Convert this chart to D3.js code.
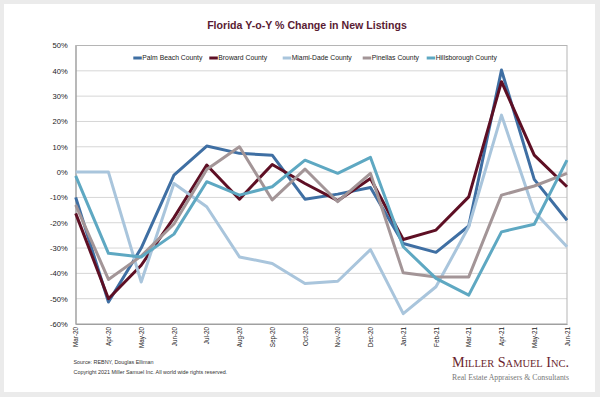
<!DOCTYPE html>
<html><head><meta charset="utf-8">
<script src="https://cdn.jsdelivr.net/npm/d3@7/dist/d3.min.js"></script>
<style>
html,body{margin:0;padding:0;background:#ebebeb;}
svg{display:block;}
</style></head>
<body>
<svg id="chart" width="600" height="397"></svg>
<script>
const months = ["Mar-20","Apr-20","May-20","Jun-20","Jul-20","Aug-20","Sep-20","Oct-20","Nov-20","Dec-20","Jan-21","Feb-21","Mar-21","Apr-21","May-21","Jun-21"];
const seriesNames = ["Palm Beach County","Broward County","Miami-Dade County","Pinellas County","Hillsborough County"];
const palmBeach    = [-10,-51.3,-30,-1.2,10.3,7.4,6.7,-10.7,-8.7,-6.1,-28.2,-31.7,-21.3,40.3,-2.9,-19];
const broward      = [-16.3,-50,-36.8,-18,2.8,-10.7,3,-4.5,-11.3,-2.5,-26.6,-22.9,-9.8,35.7,6.7,-5.8];
const miamiDade    = [0,0,-43.4,-4.5,-13.7,-33.5,-36.1,-44,-43.1,-30.6,-55.9,-45.3,-21.6,22.5,-15.7,-29.5];
const pinellas     = [-13,-42.4,-33.2,-20.5,1,10,-11,1.2,-11.7,-0.5,-39.8,-41.4,-41.4,-9.1,-5.5,-0.5];
const hillsborough = [-1.5,-32.1,-33.5,-24.5,-3.8,-9.1,-5.8,4.7,-0.5,5.8,-29.5,-42,-48.6,-23.6,-20.6,4.7];
const yTicks = [50,40,30,20,10,0,-10,-20,-30,-40,-50,-60];
const colors = ["#3f6fa3","#5e0f24","#a9c5dc","#a39597","#5ea8c2"];

const seriesValues = [palmBeach, broward, miamiDade, pinellas, hillsborough];

const svg = d3.select("#chart");
// card
svg.append("rect").attr("x",4).attr("y",4).attr("width",591).attr("height",388).attr("fill","#ffffff");

const x = d3.scalePoint().domain(months).range([75.7, 567]);
const y = d3.scaleLinear().domain([-60, 50]).range([324, 45.5]);

// gridlines
svg.append("g").selectAll("line").data(yTicks).join("line")
  .attr("x1", 75.7).attr("x2", 567)
  .attr("y1", d => y(d)).attr("y2", d => y(d))
  .attr("stroke", "#d6d6d6").attr("stroke-width", 1);

// plot border
svg.append("rect").attr("x",75.7).attr("y",y(50)).attr("width",567-75.7).attr("height",y(-60)-y(50))
  .attr("fill","none").attr("stroke","#b5b5b5").attr("stroke-width",1);

// y axis
const yAxis = d3.axisLeft(y).tickValues(yTicks).tickFormat(d => d + "%").tickSize(0).tickPadding(8);
const gy = svg.append("g").attr("transform","translate(75.7,0)").call(yAxis);
gy.select(".domain").attr("stroke","#a0a0a0");
gy.selectAll("text").attr("font-family","Liberation Sans, Arial, sans-serif").attr("font-size","7.6px").attr("fill","#222");

// x axis
const xAxis = d3.axisBottom(x).tickSize(0).tickPadding(4);
const gx = svg.append("g").attr("transform","translate(0,324)").call(xAxis);
gx.select(".domain").attr("stroke","#a0a0a0");
gx.selectAll("text")
  .attr("font-family","Liberation Sans, Arial, sans-serif").attr("font-size","6.3px").attr("fill","#222")
  .attr("text-anchor","end").attr("dy","0.35em")
  .attr("transform","translate(0,3) rotate(-90)").attr("x",0).attr("y",0);

// lines
const line = d3.line().x((d,i) => x(months[i])).y(d => y(d));
svg.append("g").selectAll("path").data(seriesValues).join("path")
  .attr("d", d => line(d))
  .attr("fill","none")
  .attr("stroke",(d,i) => colors[i])
  .attr("stroke-width",3)
  .attr("stroke-linejoin","round");

// legend
const legendX = [133.3, 209.3, 282.7, 362.7, 426.7];
const lg = svg.append("g").selectAll("g").data(seriesNames).join("g")
  .attr("transform",(d,i) => `translate(${legendX[i]},58)`);
lg.append("line").attr("x1",0).attr("x2",8.5).attr("y1",0).attr("y2",0)
  .attr("stroke",(d,i) => colors[i]).attr("stroke-width",3);
lg.append("text").attr("x",9).attr("y",0).attr("dy","0.35em")
  .attr("font-family","Liberation Sans, Arial, sans-serif").attr("font-size","6.8px").attr("fill","#222")
  .text(d => d);

// title
svg.append("text").attr("x",307).attr("y",29).attr("text-anchor","middle")
  .attr("font-family","Liberation Sans, Arial, sans-serif").attr("font-weight","bold").attr("font-size","10.6px")
  .attr("fill","#5a1b33").text("Florida Y-o-Y % Change in New Listings");

// footer
svg.append("text").attr("x",73.5).attr("y",364)
  .attr("font-family","Liberation Sans, Arial, sans-serif").attr("font-size","5.4px").attr("fill","#333")
  .text("Source: REBNY, Douglas Elliman");
svg.append("text").attr("x",73.5).attr("y",373.5)
  .attr("font-family","Liberation Sans, Arial, sans-serif").attr("font-size","5.4px").attr("fill","#333")
  .text("Copyright 2021 Miller Samuel Inc.  All world wide rights reserved.");

svg.append("text").attr("x",452).attr("y",367)
  .attr("font-family","Liberation Serif, Times New Roman, serif").attr("font-size","15px")
  .style("font-variant","small-caps").attr("fill","#6b1f2e")
  .attr("textLength",117).attr("lengthAdjust","spacingAndGlyphs")
  .text("Miller Samuel Inc.");
svg.append("text").attr("x",452).attr("y",380)
  .attr("font-family","Liberation Serif, Times New Roman, serif").attr("font-size","8.6px")
  .attr("fill","#777").attr("textLength",117).attr("lengthAdjust","spacingAndGlyphs")
  .text("Real Estate Appraisers & Consultants");
</script>
</body></html>
